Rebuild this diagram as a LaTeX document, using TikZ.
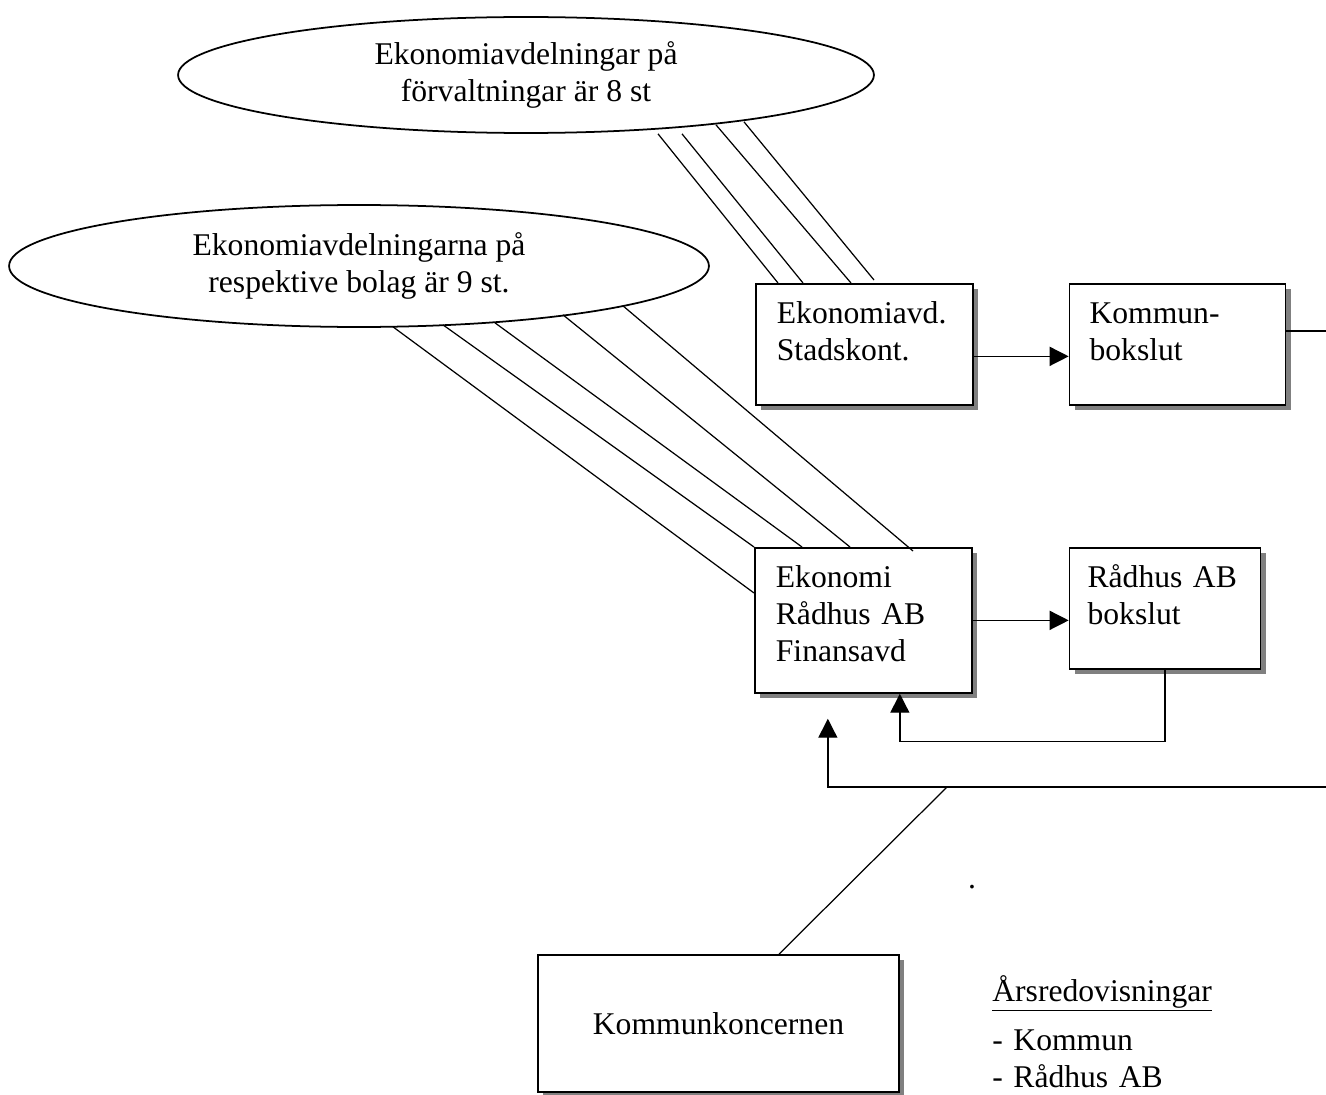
\documentclass[tikz,border=0pt]{standalone}
\usepackage{fontspec}
\setmainfont{Liberation Serif}
\usetikzlibrary{positioning,shapes.geometric,shadows,arrows.meta}

\begin{document}
\begin{tikzpicture}[x=0.02cm,y=-0.02cm,>={Triangle[length=0.38cm,width=0.38cm]},
  font=\fontsize{18}{21}\selectfont,
  ruta/.style={draw,fill=white,line width=1pt,
    drop shadow={shadow xshift=0.1cm,shadow yshift=-0.1cm,fill=gray,opacity=1}},
  boks/.style={ruta,anchor=north west,align=left,inner xsep=0.42cm,inner ysep=0pt,text height=0.8cm},
  moln/.style={ellipse,draw,line width=1pt,inner sep=0pt,align=center},
  strek/.style={line width=0.7pt},
  pil/.style={->,line width=0.8pt}]
  \useasboundingbox (0,0) rectangle (1326,1095);
  \node[moln,minimum width=13.92cm,minimum height=2.32cm] (forv) at (526,75) {Ekonomiavdelningar på\\förvaltningar är 8 st};
  \node[moln,minimum width=14cm,minimum height=2.44cm] (bolag) at (359,266) {Ekonomiavdelningarna på\\respektive bolag är 9 st.};
  \node[boks,text width=3.5cm,text depth=1.62cm] (stad) at (755,283) {Ekonomiavd.\\Stadskont.};
  \node[boks,text width=3.52cm,text depth=1.62cm,inner xsep=0.4cm,right=1.9cm of stad.north east,anchor=north west] (kommun) {Kommun-\\bokslut};
  \node[boks,text width=3.5cm,text depth=2.1cm] (eko) at (754,547) {Ekonomi\\Rådhus AB\\Finansavd};
  \node[boks,text width=3.1cm,text depth=1.62cm,inner xsep=0.36cm,right=1.92cm of eko.north east,anchor=north west] (radhus) {Rådhus AB\\bokslut};
  \node[ruta,minimum width=7.22cm,minimum height=2.74cm] (koncern) at (718.5,1023.5) {Kommunkoncernen};
  \node (prick) at (972,887) {.};
  \node[anchor=base west,inner sep=0pt,text width=5cm,align=left] (arsred) at (992,1001) {\underline{Årsredovisningar}\\[0.25cm]- Kommun\\- Rådhus AB};
  \coordinate (kant1) at (1330,331);
  \coordinate (kant2) at (1330,787);
  \coordinate (knut) at (947,787);
  \foreach \sx/\sy/\ex/\ey in {132/0/23/0,156/0/48/0,190/-9/96/0,218/-12/119/-3}
    \draw[strek] ([shift={(\sx,\sy)}]forv.south) -- ([shift={(\ex,\ey)}]stad.north west);
  \foreach \sx/\sy/\ex/\ey in {34/-1/0/46,84/-3/0/0,136/-5/48/0,204/-13/96/0,264/-22/159/4}
    \draw[strek] ([shift={(\sx,\sy)}]bolag.south) -- ([shift={(\ex,\ey)}]eko.north west);
  \draw[pil] ([yshift=-0.24cm]stad.east) -- ([yshift=-0.24cm]kommun.west);
  \draw[strek] (kommun.east |- kant1) -- (kant1);
  \draw[pil] (eko.east) -- (eko.east -| radhus.west);
  \draw[pil] (radhus.south) -- ++(0,72) -| ([xshift=0.73cm]eko.south);
  \draw[pil] (kant2) -| ([shift={(-35.5,25)}]eko.south);
  \draw[strek] ([xshift=1.21cm]koncern.north) -- (knut);
\end{tikzpicture}
\end{document}
